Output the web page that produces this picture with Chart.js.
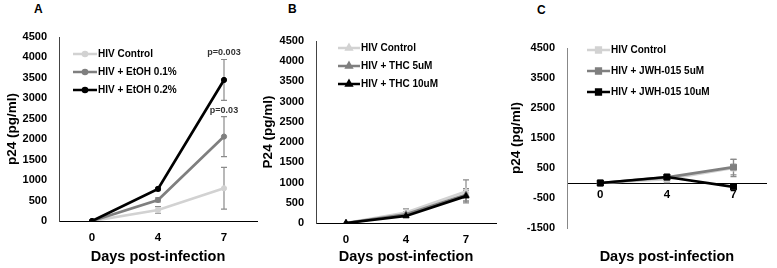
<!DOCTYPE html>
<html>
<head>
<meta charset="utf-8">
<script src="https://cdn.jsdelivr.net/npm/chart.js@4.4.1/dist/chart.umd.min.js"></script>
<style>
  body { margin:0; background:#fff; width:777px; height:268px; overflow:hidden; position:relative; font-family:'Liberation Sans', Arial, sans-serif; }
  .panel { position:absolute; top:0; height:268px; }
  .tag { position:absolute; font-weight:bold; font-size:12px; color:#000; }
</style>
</head>
<body>
<div class="tag" style="left:34px;top:2px">A</div>
<div class="tag" style="left:288px;top:2px">B</div>
<div class="tag" style="left:537px;top:3px">C</div>
<div class="panel" style="left:0;width:262px"><canvas id="chart-a"></canvas></div>
<div class="panel" style="left:260px;width:241px"><canvas id="chart-b"></canvas></div>
<div class="panel" style="left:505px;width:267px"><canvas id="chart-c"></canvas></div>
<script>
// x categories and y ticks
const days = ['0', '4', '7'];
const ticksAB = [0, 500, 1000, 1500, 2000, 2500, 3000, 3500, 4000, 4500];
const ticksC = [-1500, -500, 500, 1500, 2500, 3500, 4500];

// Panel A - EtOH
const controlA = [0, 270, 800];
const controlAErr = [0, 80, 510];
const etoh01 = [0, 515, 2065];
const etoh01Err = [0, 50, 490];
const etoh02 = [0, 785, 3450];
const etoh02Err = [0, 40, 500];
const etoh01Notes = ['', '', 'p=0.03'];
const etoh02Notes = ['', '', 'p=0.003'];

// Panel B - THC
const controlB = [0, 260, 780];
const controlBErr = [0, 90, 285];
const thc5 = [0, 215, 700];
const thc5Err = [0, 60, 150];
const thc10 = [0, 175, 665];
const thc10Err = [0, 40, 145];

// Panel C - JWH-015
const controlC = [0, 130, 500];
const controlCErr = [0, 120, 290];
const jwh5 = [0, 190, 530];
const jwh5Err = [0, 60, 260];
const jwh10 = [0, 200, -130];
const jwh10Err = [0, 40, 0];

const LIGHT = '#d2d2d2', MID = '#7f7f7f', DARK = '#000000';
Chart.defaults.font.family = "'Liberation Sans', Arial, sans-serif";

const errorBars = {
  id: 'errorBars',
  beforeDatasetsDraw(chart) {
    const ctx = chart.ctx, y = chart.scales.y;
    ctx.save();
    ctx.strokeStyle = '#8a8a8a';
    ctx.lineWidth = 1.2;
    chart.data.datasets.forEach((ds, i) => {
      const meta = chart.getDatasetMeta(i);
      (ds.errors || []).forEach((e, j) => {
        if (!e) return;
        const px = meta.data[j].x;
        const top = y.getPixelForValue(ds.data[j] + e);
        const bot = y.getPixelForValue(ds.data[j] - e);
        ctx.beginPath();
        ctx.moveTo(px, top); ctx.lineTo(px, bot);
        ctx.moveTo(px - 3, top); ctx.lineTo(px + 3, top);
        ctx.moveTo(px - 3, bot); ctx.lineTo(px + 3, bot);
        ctx.stroke();
      });
    });
    ctx.restore();
  },
  afterDatasetsDraw(chart) {
    const ctx = chart.ctx, y = chart.scales.y;
    ctx.save();
    ctx.font = "bold 9px 'Liberation Sans', Arial";
    ctx.fillStyle = '#333';
    ctx.textAlign = 'center';
    ctx.textBaseline = 'bottom';
    chart.data.datasets.forEach((ds, i) => {
      const meta = chart.getDatasetMeta(i);
      (ds.notes || []).forEach((t, j) => {
        if (!t) return;
        ctx.fillText(t, meta.data[j].x, y.getPixelForValue(ds.data[j] + ds.errors[j]) - 2);
      });
    });
    ctx.restore();
  }
};

const lineLegend = {
  id: 'lineLegend',
  afterDraw(chart, args, o) {
    const ctx = chart.ctx;
    ctx.save();
    chart.data.datasets.forEach((ds, i) => {
      const y = o.y + i * o.gap;
      ctx.strokeStyle = ds.borderColor;
      ctx.lineWidth = 2.5;
      ctx.beginPath();
      ctx.moveTo(o.x, y); ctx.lineTo(o.x + o.len, y);
      ctx.stroke();
      ctx.fillStyle = ds.borderColor;
      Chart.helpers.drawPoint(ctx, { pointStyle: ds.pointStyle, radius: ds.pointRadius * 0.8, rotation: 0, borderWidth: 1 }, o.x + o.len / 2, y);
      ctx.fillStyle = '#000';
      ctx.font = "bold 10px 'Liberation Sans', Arial";
      ctx.textBaseline = 'middle';
      ctx.fillText(ds.label, o.x + o.len + 1, y);
    });
    ctx.restore();
  }
};

const bottomTitle = {
  id: 'bottomTitle',
  afterDraw(chart, args, o) {
    const ctx = chart.ctx, a = chart.chartArea;
    ctx.save();
    ctx.font = "bold 14.5px 'Liberation Sans', Arial";
    ctx.fillStyle = '#000';
    ctx.textAlign = 'center';
    ctx.textBaseline = 'middle';
    ctx.fillText(o.text, (a.left + a.right) / 2, o.y);
    ctx.restore();
  }
};

function panel(id, sets, yTicks, box) {
  return new Chart(document.getElementById(id), {
    type: 'line',
    data: {
      labels: days,
      datasets: sets.map((s, i) => ({
        label: s.label,
        data: s.data,
        errors: s.err,
        notes: s.notes,
        order: sets.length - i,
        borderColor: s.color,
        backgroundColor: s.color,
        pointBackgroundColor: s.color,
        pointBorderColor: s.color,
        borderWidth: 2.7,
        pointBorderWidth: 1,
        pointStyle: box.marker,
        pointRadius: box.markerSize,
        tension: 0,
      })),
    },
    options: {
      responsive: true,
      maintainAspectRatio: false,
      animation: false,
      layout: { padding: { top: box.top, right: 0, bottom: box.padBottom, left: 0 } },
      plugins: {
        legend: { display: false },
        tooltip: { enabled: false },
        lineLegend: box.legend,
        bottomTitle: { text: 'Days post-infection', y: 257 },
      },
      scales: {
        x: {
          type: 'category',
          offset: true,
          position: box.zeroAxis ? { y: 0 } : 'bottom',
          grid: { display: false, drawTicks: false },
          border: { color: '#000', width: 1 },
          ticks: { color: '#000', font: { size: 11.5, weight: 'bold' }, padding: box.xPad },
          afterFit: s => { s.height = box.xHeight; },
        },
        y: {
          min: yTicks[0],
          max: yTicks[yTicks.length - 1],
          grid: { display: false, drawTicks: false },
          border: { color: box.yColor, width: 1 },
          ticks: { color: '#000', font: { size: 11, weight: 'bold' }, padding: 12, callback: v => String(v) },
          afterBuildTicks: s => { s.ticks = yTicks.map(v => ({ value: v })); },
          afterFit: s => { s.width = box.yWidth; },
          title: { display: true, text: box.yTitle, color: '#000', font: { size: 13.5, weight: 'bold' }, padding: { top: box.yTitlePad, bottom: 0 } },
        },
      },
    },
    plugins: [errorBars, lineLegend, bottomTitle],
  });
}

panel('chart-a', [
  { label: 'HIV Control', data: controlA, err: controlAErr, color: LIGHT },
  { label: 'HIV + EtOH 0.1%', data: etoh01, err: etoh01Err, notes: etoh01Notes, color: MID },
  { label: 'HIV + EtOH 0.2%', data: etoh02, err: etoh02Err, notes: etoh02Notes, color: DARK },
], ticksAB, {
  top: 37, padBottom: 0, xHeight: 47, xPad: 10, yWidth: 59, yColor: '#444',
  yTitle: 'p24 (pg/ml)', yTitlePad: 4, marker: 'circle', markerSize: 2.6,
  legend: { x: 73, y: 54, gap: 18, len: 24 },
});

panel('chart-b', [
  { label: 'HIV Control', data: controlB, err: controlBErr, color: LIGHT },
  { label: 'HIV + THC 5uM', data: thc5, err: thc5Err, color: MID },
  { label: 'HIV + THC 10uM', data: thc10, err: thc10Err, color: DARK },
], ticksAB, {
  top: 41, padBottom: 0, xHeight: 45, xPad: 10, yWidth: 56, yColor: '#444',
  yTitle: 'P24 (pg/ml)', yTitlePad: 0, marker: 'triangle', markerSize: 3.6,
  legend: { x: 78, y: 48, gap: 18, len: 22 },
});

panel('chart-c', [
  { label: 'HIV Control', data: controlC, err: controlCErr, color: LIGHT },
  { label: 'HIV + JWH-015 5uM', data: jwh5, err: jwh5Err, color: MID },
  { label: 'HIV + JWH-015 10uM', data: jwh10, err: jwh10Err, color: DARK },
], ticksC, {
  top: 48, padBottom: 40, xHeight: 0, xPad: 5, yWidth: 62, yColor: '#888', zeroAxis: true,
  yTitle: 'p24 (pg/ml)', yTitlePad: 3, marker: 'rect', markerSize: 4.2,
  legend: { x: 82, y: 50, gap: 21, len: 23 },
});
</script>
</body>
</html>
